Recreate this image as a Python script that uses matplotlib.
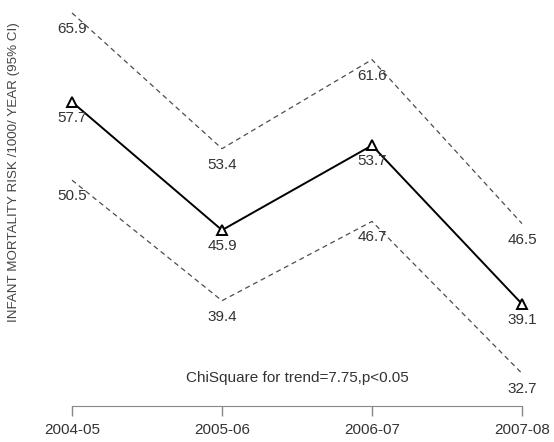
import matplotlib.pyplot as plt

plt.rcParams['font.family'] = ['Liberation Sans', 'DejaVu Sans']

years = ['2004-05', '2005-06', '2006-07', '2007-08']
risk = [57.7, 45.9, 53.7, 39.1]
upper = [65.9, 53.4, 61.6, 46.5]
lower = [50.5, 39.4, 46.7, 32.7]
note = 'ChiSquare for trend=7.75,p<0.05'

x = [1, 2, 3, 4]

fig = plt.figure(figsize=(5.54, 4.42), dpi=100)
ax = fig.add_axes([0, 0, 1, 1])

ax.plot(x, upper, color='#4d4d4d', lw=0.9, ls=(0, (4, 3)))
ax.plot(x, lower, color='#4d4d4d', lw=0.9, ls=(0, (4, 3)))
ax.plot(x, risk, color='black', lw=1.4, marker='^', ms=7, mfc='white',
        mec='black', mew=1.4)

for series in (risk, upper, lower):
    for xi, v in zip(x, series):
        ax.annotate('%.1f' % v, (xi, v), xytext=(0, -11.5), textcoords='offset points',
                    ha='center', va='center', fontsize=11, color='#333333')

ax.text(2.5, 32.3, note, ha='center', va='center', fontsize=11, color='#333333')

ax.set_xlim(0.52, 4.2133)
ax.set_ylim(26.39, 67.09)

for s in ['top', 'right', 'left']:
    ax.spines[s].set_visible(False)
ax.spines['bottom'].set_position(('data', 29.7))
ax.spines['bottom'].set_bounds(1, 4)
ax.spines['bottom'].set_color('#888888')
ax.set_xticks(x)
ax.set_xticklabels(years)
ax.tick_params(axis='x', direction='out', length=7.5, width=1, color='#888888',
               labelsize=11, labelcolor='#333333', pad=5)
ax.set_yticks([])

fig.text(0.025, 0.61, 'INFANT MORTALITY RISK /1000/ YEAR (95% CI)', rotation=90,
         ha='center', va='center', fontsize=9.6, color='#444444')

fig.savefig('out.png', dpi=100)
